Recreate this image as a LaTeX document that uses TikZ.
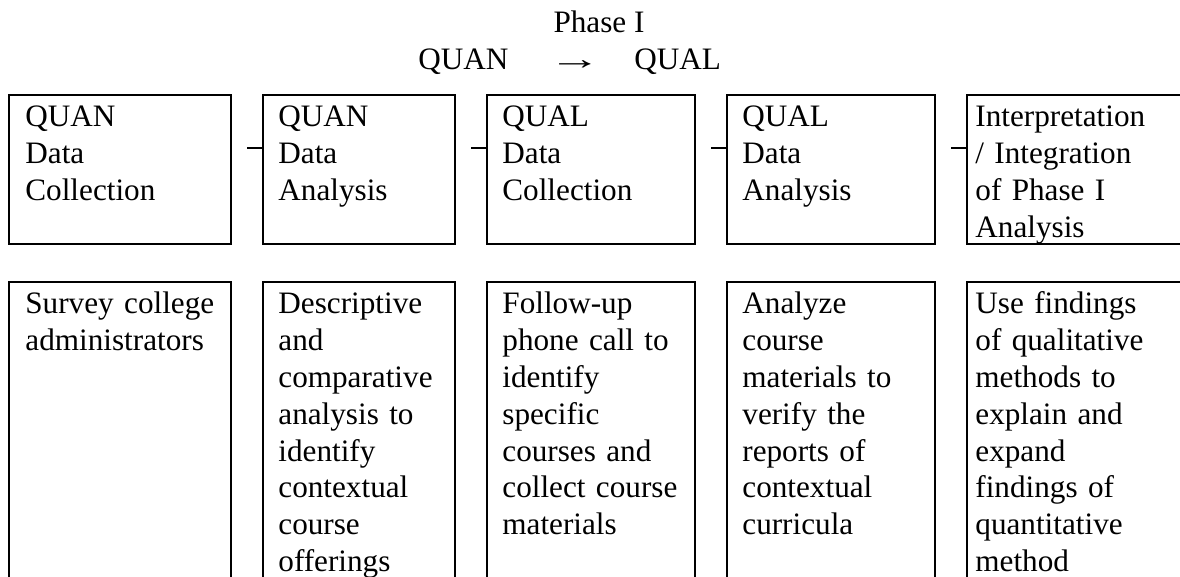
\documentclass[tikz,border=0pt]{standalone}
\usepackage{fontspec}
\setmainfont{Liberation Serif}
\usetikzlibrary{calc}
\begin{document}
\begin{tikzpicture}[x=0.5pt,y=-0.5pt,
  box/.style={draw,line width=1pt,anchor=north west,inner sep=0pt,outer sep=0pt},
  topbox/.style={box,minimum height=74.5pt},
  botbox/.style={box,minimum height=160pt},
  txt/.style={anchor=base west,inner sep=0pt,text width=110pt,align=left,
    font=\fontsize{15.6}{18.4}\selectfont},
  ttl/.style={inner sep=0pt,font=\fontsize{15.6}{18.5}\selectfont},
  conn/.style={draw,line width=0.6pt}]
\useasboundingbox (0,0) rectangle (1180,577);
\clip (0,0) rectangle (1180,577);
% title
\node[ttl,anchor=base] (phase) at (599,33) {Phase I};
\node[ttl,anchor=base west] (quan) at (418,70) {QUAN};
\node[ttl,anchor=base] (arr) at (575,70) {\scalebox{1.7}[1]{→}};
\node[ttl,anchor=base west] (qual) at (634,70) {QUAL};
% top boxes
\node[topbox,minimum width=111pt] (t1) at (9,95) {};
\node[topbox,minimum width=96pt] (t2) at (263,95) {};
\node[topbox,minimum width=104pt] (t3) at (487,95) {};
\node[topbox,minimum width=104pt] (t4) at (727,95) {};
\node[topbox,minimum width=115pt] (t5) at (967,95) {};
% bottom boxes
\node[botbox,minimum width=111pt] (b1) at (9,282) {};
\node[botbox,minimum width=96pt] (b2) at (263,282) {};
\node[botbox,minimum width=104pt] (b3) at (487,282) {};
\node[botbox,minimum width=104pt] (b4) at (727,282) {};
\node[botbox,minimum width=115pt] (b5) at (967,282) {};
% top texts
\node[txt] (tt1) at ($(t1.north west)+(16,32)$) {QUAN\\Data\\Collection};
\node[txt] (tt2) at ($(t2.north west)+(15,32)$) {QUAN\\Data\\Analysis};
\node[txt] (tt3) at ($(t3.north west)+(15,32)$) {QUAL\\Data\\Collection};
\node[txt] (tt4) at ($(t4.north west)+(15,32)$) {QUAL\\Data\\Analysis};
\node[txt] (tt5) at ($(t5.north west)+(8,32)$) {Interpretation\\/ Integration\\of Phase I\\Analysis};
% bottom texts
\node[txt] (bt1) at ($(b1.north west)+(16,32)$) {Survey college\\administrators};
\node[txt] (bt2) at ($(b2.north west)+(15,32)$) {Descriptive\\and\\comparative\\analysis to\\identify\\contextual\\course\\offerings};
\node[txt] (bt3) at ($(b3.north west)+(15,32)$) {Follow-up\\phone call to\\identify\\specific\\courses and\\collect course\\materials};
\node[txt] (bt4) at ($(b4.north west)+(15,32)$) {Analyze\\course\\materials to\\verify the\\reports of\\contextual\\curricula};
\node[txt] (bt5) at ($(b5.north west)+(8,32)$) {Use findings\\of qualitative\\methods to\\explain and\\expand\\findings of\\quantitative\\method};
% connectors
\draw[conn] ($(t2.north west)+(0,53)$) -- ++(-16,0);
\draw[conn] ($(t3.north west)+(0,53)$) -- ++(-16,0);
\draw[conn] ($(t4.north west)+(0,53)$) -- ++(-16,0);
\draw[conn] ($(t5.north west)+(0,53)$) -- ++(-16,0);
\end{tikzpicture}
\end{document}
